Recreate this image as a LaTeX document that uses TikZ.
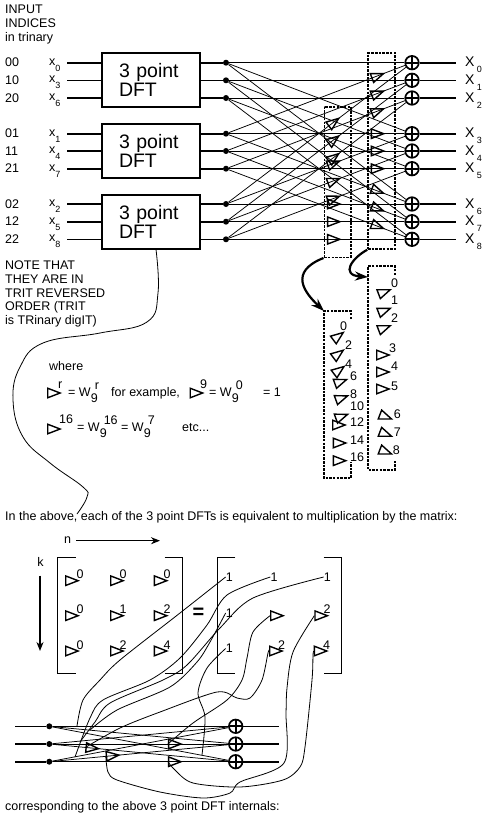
\documentclass[tikz,border=0pt]{standalone}
\usepackage{fontspec}
\setmainfont{Liberation Sans}
\usetikzlibrary{arrows.meta,shapes.geometric}
\newcommand{\lowr}[1]{\raisebox{-6pt}{\fontsize{9}{9}\selectfont #1}}
\newcommand{\wnine}[1]{W\rlap{\raisebox{-6pt}{9}}\hspace{4pt}\raisebox{7pt}{#1}}

\begin{document}
\begin{tikzpicture}[x=1pt, y=-1pt,
    lbl/.style={inner sep=0pt, font=\fontsize{12.5}{13.6}\selectfont, align=left},
    dftbox/.style={draw, line width=1.6pt, fill=white, minimum width=98pt, minimum height=54pt,
        text width=64pt, inner sep=0pt, align=left, font=\fontsize{19.5}{19}\selectfont},
    wire/.style={line width=1.6pt},
    flow/.style={line width=0.75pt},
    curvy/.style={line width=0.8pt},
    dot/.style={circle, fill=black, inner sep=0pt, minimum size=6pt},
    sumop/.style={circle, draw, line width=1.7pt, fill=white, inner sep=0pt, minimum size=13.5pt,
        path picture={\draw[line width=1.7pt] (path picture bounding box.north) -- (path picture bounding box.south)
            (path picture bounding box.west) -- (path picture bounding box.east);}},
    twid/.style={isosceles triangle, isosceles triangle apex angle=42, draw, line width=1.4pt,
        inner sep=0pt, minimum width=9.5pt},
    dashbox/.style={draw, line width=1.5pt, dash pattern=on 2.5pt off 1.2pt},
    heavy/.style={-{Stealth[length=13pt,width=9pt]}, line width=2.2pt},
    longarrow/.style={-{Stealth[length=9pt,width=7pt]}, line width=1.5pt},
    bracket/.style={line width=1.5pt},
]
\useasboundingbox (0,0) rectangle (494,819);

% Heading and trinary indices
\node[lbl, anchor=north west] (head) at (5,5) {INPUT\\INDICES\\in trinary};
\foreach \r/\y/\t/\n in {0/62.7/00/0,1/80.3/10/3,2/98/20/6,3/133.7/01/1,4/151/11/4,5/168.7/21/7,6/204/02/2,7/221.7/12/5,8/239.3/22/8} {
    \node[lbl, anchor=base west] (t\r) at (5,\y+4) {\t};
    \node[lbl, anchor=base west] (x\r) at (49,\y+2.5) {x\lowr{\n}};
    \coordinate (in\r) at (67,\y);
    \coordinate (out\r) at (456,\y);
    \node[dot] (d\r) at (226,\y) {};
    \node[sumop] (s\r) at (412,\y) {};
    \node[lbl, anchor=base west, font=\fontsize{14}{14}\selectfont] (X\r) at (465,\y+4) {X\,\lowr{\r}};
    \draw[wire] (in\r) -- (d\r);
    \draw[wire] (s\r) -- (out\r);
}

% Three point blocks
\node[dftbox] (dfta) at (151,80) {3 point\\DFT};
\node[dftbox] (dftb) at (151,151.2) {3 point\\DFT};
\node[dftbox] (dftc) at (151,221.7) {3 point\\DFT};

% Butterfly lines
\foreach \a/\b in {d0/s0,d0/s3,d0/s6,d1/s1,d1/s4,d1/s7,d2/s2,d2/s5,d2/s8}
    \draw[flow] (\a) -- (\b);
\foreach \a/\b in {d3/s0,d4/s1,d5/s2,d3/s3,d4/s4,d5/s5,d3/s6,d4/s7,d5/s8}
    \draw[flow] (\a) -- node[twid, sloped, pos=0.83] {} (\b);
\foreach \a/\b in {d6/s0,d7/s1,d8/s2,d6/s3,d7/s4,d8/s5,d6/s6,d7/s7,d8/s8}
    \draw[flow] (\a) -- node[twid, sloped, pos=0.58] {} (\b);

% Dashed groups and their enlargements
\node[dashbox, minimum width=26.5pt, minimum height=150.5pt, inner sep=0pt] (boxa) at (337.5,182) {};
\node[dashbox, minimum width=27pt, minimum height=196pt, inner sep=0pt] (boxb) at (381.5,151) {};
\coordinate (lowa) at (324,311);
\coordinate (lowb) at (368,266);
\draw[dashbox] (351,319) -- (351,311) -- (lowa) -- (324,478) -- (351,478) -- (351,462);
\draw[dashbox] (395,275) -- (395,266) -- (lowb) -- (368,470) -- (395,470) -- (395,461);
\draw[heavy] (boxa.south west) .. controls (288,272) and (305,293) .. (lowa);
\draw[heavy] (boxb.south west) .. controls (352,258) and (340,275) .. (368,277);

\foreach \n/\x/\y/\a/\lx/\ly in {0/336/338/37/343/330,2/336/355.7/37/348/349,4/336.7/372/37/348/368,
    6/338/382.7/20/353/380,8/339/399/20/353/398,10/339/417.5/20/353/410,12/336/425/0/353/426,14/336.7/443/0/353/444,16/336.7/460.7/0/353/461} {
    \node[twid, rotate=\a] (ta\n) at (\x,\y) {};
    \node[lbl, anchor=base west] (la\n) at (\lx-3,\ly) {\n};
}
\foreach \n/\x/\y/\a/\lx/\ly in {0/381.7/293/21/394/287,1/381.7/311.7/21/394/304.5,2/381.7/329/21/394/322,3/380/355/0/392/352,
    4/380/372/0/394/370.5,5/380/389/0/394/390,6/383/415.7/-21/396.7/418,7/383/433/-21/396.7/436.5,8/383/450.7/-21/395.7/454} {
    \node[twid, rotate=\a] (tb\n) at (\x,\y) {};
    \node[lbl, anchor=base west] (lb\n) at (\lx-3,\ly) {\n};
}

% Side note
\node[lbl, anchor=north west] (note) at (5,261) {NOTE THAT\\THEY ARE IN\\TRIT REVERSED\\ORDER (TRIT\\is TRinary digIT)};

% Definition of the triangle
\node[lbl, anchor=base west] (where) at (49,370) {where};
\node[twid] (defa) at (51,393) {};
\node[lbl, anchor=base west] (defar) at (58,388) {r};
\node[lbl, anchor=base west] (defaw) at (68,396.7) {= \wnine{r}};
\node[lbl, anchor=base west] (forex) at (111,396.7) {for example,};
\node[twid] (defb) at (193.5,393) {};
\node[lbl, anchor=base west] (defbr) at (200,388) {9};
\node[lbl, anchor=base west] (defbw) at (209,396.7) {= \wnine{0}};
\node[lbl, anchor=base west] (defbo) at (263,396.7) {= 1};
\node[twid] (defc) at (51,429) {};
\node[lbl, anchor=base west] (defcr) at (59,423) {16};
\node[lbl, anchor=base west] (defcw) at (77,431.7) {= \wnine{16}};
\node[lbl, anchor=base west] (defcv) at (121,431.7) {= \wnine{7}};
\node[lbl, anchor=base west] (etc) at (182,431.7) {etc...};

% Captions
\node[lbl, anchor=base west] (capa) at (5,520) {In the above, each of the 3 point DFTs is equivalent to multiplication by the matrix:};
\node[lbl, anchor=base west] (capb) at (5,810) {corresponding to the above 3 point DFT internals:};

% Curve from the last block down to the caption
\coordinate (capend) at (77,514);
\draw[curvy] plot[smooth, tension=0.7] coordinates {([xshift=5pt]dftc.south) (158,293) (147,322) (100,333) (43,343) (20,367) (13,400) (23,437) (50,463) (83,487) (87,497) (capend)};

% Matrix axes
\node[lbl] (nlab) at (67.5,540) {n};
\coordinate (nend) at (160,540.7);
\draw[longarrow] (76,540.7) -- (nend);
\node[lbl] (klab) at (40.5,562) {k};
\coordinate (kend) at (40,651);
\draw[longarrow] (40,575.7) -- (kend);

% Brackets
\draw[bracket] (75.7,557.7) -- (57.7,557.7) -- (57.7,673.3) -- (75.7,673.3);
\draw[bracket] (164.7,557.7) -- (182.7,557.7) -- (182.7,673.3) -- (164.7,673.3);
\draw[bracket] (235.3,557.7) -- (217.3,557.7) -- (217.3,673.3) -- (235.3,673.3);
\draw[bracket] (323.7,557.7) -- (341.7,557.7) -- (341.7,673.3) -- (323.7,673.3);
\node[lbl, font=\fontsize{20}{20}\selectfont\bfseries] (eq) at (198.5,613) {=};

% Left matrix
\foreach \k/\y/\ly/\u/\v/\w in {0/580.7/578/0/0/0,1/615.7/613/0/1/2,2/651/649/0/2/4} {
    \node[twid] (pa\k) at (69,\y) {};
    \node[twid] (pb\k) at (114,\y) {};
    \node[twid] (pc\k) at (157.7,\y) {};
    \node[lbl, anchor=base] (qa\k) at (80,\ly) {\u};
    \node[lbl, anchor=base] (qb\k) at (123,\ly) {\v};
    \node[lbl, anchor=base] (qc\k) at (167,\ly) {\w};
}

% Right matrix
\node[lbl] (ra) at (229.3,577) {1};
\node[lbl] (rb) at (274,577) {1};
\node[lbl] (rc) at (327.3,577) {1};
\node[lbl] (rd) at (229.3,613) {1};
\node[lbl] (re) at (229.3,648.5) {1};
\node[twid] (rf) at (274,615.7) {};
\node[twid] (rg) at (318.3,615.7) {};
\node[twid] (rh) at (273,651) {};
\node[twid] (ri) at (317.7,651) {};
\node[lbl, anchor=base] (rgl) at (327,613) {2};
\node[lbl, anchor=base] (rhl) at (281.7,649) {2};
\node[lbl, anchor=base] (ril) at (326.7,649) {4};

% Three point internals
\foreach \r/\y in {0/726.3,1/744,2/761.7} {
    \coordinate (ein\r) at (15,\y);
    \coordinate (eout\r) at (279,\y);
    \node[dot] (e\r) at (49.3,\y) {};
    \node[sumop] (f\r) at (235.7,\y) {};
    \draw[wire] (ein\r) -- (e\r);
    \draw[wire] (f\r) -- (eout\r);
}
\foreach \a/\b in {0/0,0/1,0/2,1/0,2/0}
    \draw[flow] (e\a) -- (f\b);
\draw[flow] (e1) -- node[twid, sloped, pos=0.21] (tbc) {} (f2);
\draw[flow] (e2) -- node[twid, sloped, pos=0.326] (tcb) {} (f1);
\draw[flow] (e1) -- node[twid, sloped, pos=0.68] (tbb) {} (f1);
\draw[flow] (e2) -- node[twid, sloped, pos=0.68] (tcc) {} (f2);

% Curves from matrix entries to the branches
\coordinate (ca) at (77,726);
\coordinate (cb) at (75,757);
\coordinate (cc) at (80,742);
\coordinate (cd) at (90,730);
\coordinate (ce) at (202,755);
\draw[curvy] plot[smooth] coordinates {(ra.west) (180,613) (120,660) (100,680) (83,700) (ca)};
\draw[curvy] plot[smooth] coordinates {(rb.west) (227,595) (207,625) (180,658) (150,680) (103,700) (90,718) (cb)};
\draw[curvy] plot[smooth] coordinates {(rc.west) (253,598) (220,628) (187,665) (163,680) (110,703) (95,722) (cc)};
\draw[curvy] plot[smooth] coordinates {(rd.west) (210,642) (197,662) (170,687) (117,710) (cd)};
\draw[curvy] plot[smooth] coordinates {(re.west) (207,668) (198,693) (205,717) (ce)};
\draw[curvy] plot[smooth] coordinates {(rf.west) (253,632) (247,658) (242,680) (227,700) (193,723) (tbb.west)};
\draw[curvy] plot[smooth] coordinates {(rh.west) (268,653) (262,680) (250,698) (237,698) (217,692) (160,712) (120,728) (tbc.west)};
\draw[curvy] plot[smooth] coordinates {(rg.west) (293,652) (287,688) (286,713) (284,763) (240,782) (230,793) (203,798) (160,792) (117,780) (108,772) (tcb.west)};
\draw[curvy] plot[smooth] coordinates {(ri.west) (313,655) (312,680) (305,747) (300,767) (283,780) (240,787) (193,783) (175,770) (tcc.west)};

\end{tikzpicture}
\end{document}
